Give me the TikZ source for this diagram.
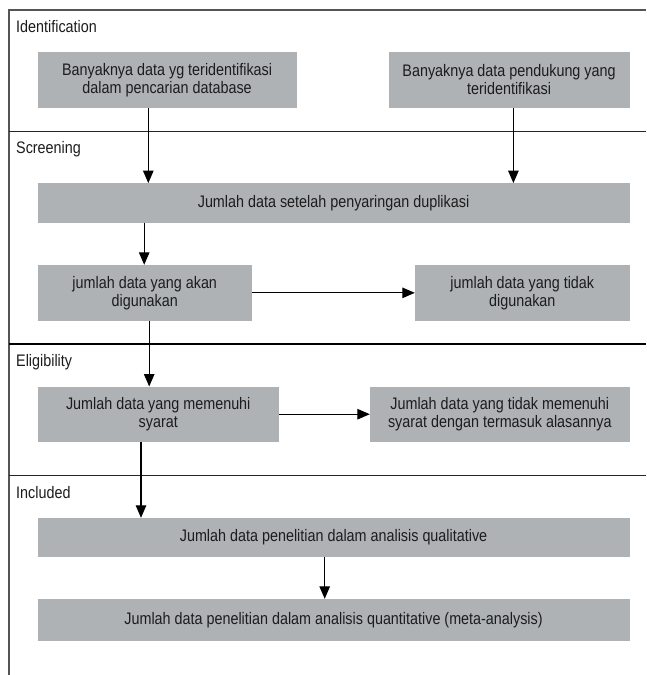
\documentclass[tikz,border=0pt]{standalone}
\usepackage{fontspec}
\setmainfont[FakeStretch=0.86]{Liberation Sans}
\usetikzlibrary{arrows.meta}
\definecolor{boxgray}{HTML}{AEB2B5}
\definecolor{txt}{HTML}{1C1C1C}
\definecolor{framegray}{HTML}{555555}
\tikzset{
  box/.style={fill=boxgray, draw=none, text=txt, align=center, inner sep=0pt,
    font=\fontsize{16.7}{18}\selectfont},
  phase/.style={anchor=west, text=txt, inner sep=0pt, font=\fontsize{16.7}{18}\selectfont},
  arr/.style={line width=1.2pt, -{Triangle[length=12.5pt,width=10.5pt]}},
  divider/.style={line width=1.3pt, draw=black!85},
  thickdivider/.style={line width=2.2pt, draw=black},
  framel/.style={line width=1.5pt, draw=framegray}
}
\begin{document}
\begin{tikzpicture}[x=1pt,y=-1pt]
\useasboundingbox (0,0) rectangle (646,675);
% frame and dividers
\draw[framel] (9,675) -- (9,10) -- (646,10);
\draw[divider] (9,131.7) -- (646,131.7);
\draw[thickdivider] (9,344) -- (646,344);
\draw[divider] (9,475.7) -- (646,475.7);
% phase labels
\node[phase] (lid) at (16,27) {Identification};
\node[phase] (lsc) at (16,149) {Screening};
\node[phase] (lel) at (16,362) {Eligibility};
\node[phase] (lin) at (16,493) {Included};
% boxes
\node[box, minimum width=259.2pt, minimum height=55.4pt] (b1) at (167.1,80)
  {Banyaknya data yg teridentifikasi\\dalam pencarian database};
\node[box, minimum width=241.1pt, minimum height=55.4pt] (b2) at (509.05,80)
  {Banyaknya data pendukung yang\\teridentifikasi};
\node[box, minimum width=592.1pt, minimum height=39.4pt] (s1) at (333.55,203)
  {Jumlah data setelah penyaringan duplikasi};
\node[box, minimum width=214.5pt, minimum height=55.7pt] (s2) at (144.75,292.85)
  {jumlah data yang akan\\digunakan};
\node[box, minimum width=214.6pt, minimum height=55.7pt] (s3) at (522.3,292.85)
  {jumlah data yang tidak\\digunakan};
\node[box, minimum width=241.5pt, minimum height=55pt] (e1) at (158.25,414.2)
  {Jumlah data yang memenuhi\\syarat};
\node[box, minimum width=259.6pt, minimum height=55pt] (e2) at (499.8,414.2)
  {Jumlah data yang tidak memenuhi\\syarat dengan termasuk alasannya};
\node[box, minimum width=592.1pt, minimum height=39pt] (i1) at (333.55,537.5)
  {Jumlah data penelitian dalam analisis qualitative};
\node[box, minimum width=592.1pt, minimum height=42pt] (i2) at (333.55,620)
  {Jumlah data penelitian dalam analisis quantitative (meta-analysis)};
% arrow columns
\coordinate (x1) at (148.3,0);
\coordinate (x2) at (513.4,0);
\coordinate (x3) at (144.2,0);
\coordinate (x4) at (149.2,0);
\coordinate (x5) at (141,0);
\coordinate (x6) at (324.7,0);
% connectors
\draw[arr] (b1.south -| x1) -- (s1.north -| x1);
\draw[arr] (b2.south -| x2) -- (s1.north -| x2);
\draw[arr] (s1.south -| x3) -- (s2.north -| x3);
\draw[arr] (s2.east) -- (s3.west);
\draw[arr] (s2.south -| x4) -- (e1.north -| x4);
\draw[arr] (e1.east) -- (e2.west);
\draw[arr] (e1.south -| x5) -- (i1.north -| x5);
\draw[arr] (i1.south -| x6) -- (i2.north -| x6);
\end{tikzpicture}
\end{document}
